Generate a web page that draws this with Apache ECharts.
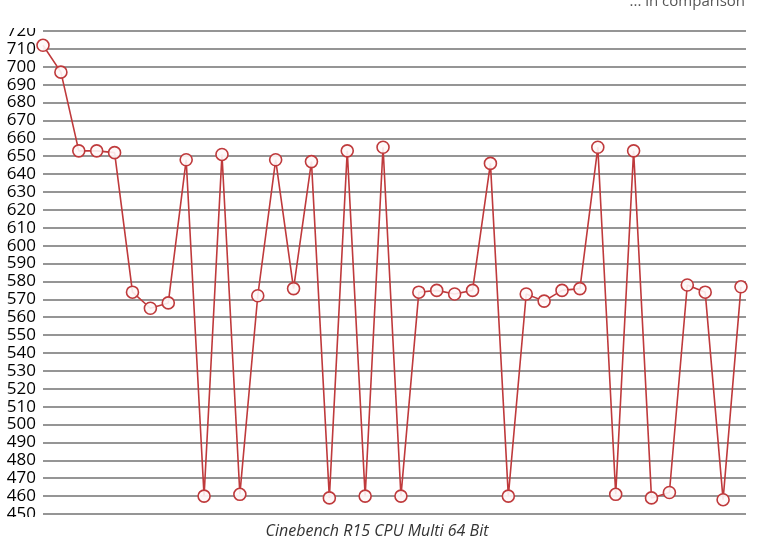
<!DOCTYPE html>
<html><head><meta charset="utf-8">
<script src="https://cdn.jsdelivr.net/npm/echarts@6/dist/echarts.min.js"></script>
<style>html,body{margin:0;padding:0;background:#fff}#c{width:777px;height:539px}</style>
</head><body><div id="c"></div>
<script>
const scores = [712,697,653,653,652,574,565,568,648,460,651,461,572,648,576,647,459,653,460,655,460,574,575,573,575,646,460,573,569,575,576,655,461,653,459,462,578,574,458,577];
const yMin = 450, yMax = 720, yStep = 10;
const xTitle = 'Cinebench R15 CPU Multi 64 Bit';
const topNote = '... in comparison';

const chart = echarts.init(document.getElementById('c'), null, {renderer:'canvas'});
chart.setOption({
  animation:false,
  grid:{left:43, right:31, top:31, bottom:25, containLabel:false},
  xAxis:{type:'value', min:0, max:39.28, show:true,
    axisLine:{show:false}, axisTick:{show:false}, axisLabel:{show:false}, splitLine:{show:false}},
  yAxis:{type:'value', min:yMin, max:yMax, interval:yStep,
    axisLine:{show:false}, axisTick:{show:false},
    axisLabel:{color:'#000', fontFamily:'Open Sans', fontSize:17, margin:7},
    splitLine:{lineStyle:{color:'#727272', width:1.6}}},
  series:[{type:'line', data:scores.map((v,i)=>[i,v]),
    symbol:'circle', symbolSize:12,
    lineStyle:{color:'#bf3a3c', width:1.6},
    itemStyle:{color:'rgba(255,248,248,0.9)', borderColor:'#bf3a3c', borderWidth:1.6}}],
  graphic:[
    {type:'rect', left:0, top:0, shape:{width:42, height:28}, style:{fill:'#fff'}, z:100},
    {type:'rect', left:0, top:517, shape:{width:42, height:22}, style:{fill:'#fff'}, z:100},
    {type:'text', x:745, y:9, style:{text:topNote, font:'15px "Open Sans"', fill:'#555', align:'right', verticalAlign:'bottom'}, z:101},
    {type:'text', x:377, y:531, style:{text:xTitle, font:'italic 16px "Open Sans"', fill:'#333', align:'center', verticalAlign:'middle'}, z:101}
  ]
});
</script></body></html>
